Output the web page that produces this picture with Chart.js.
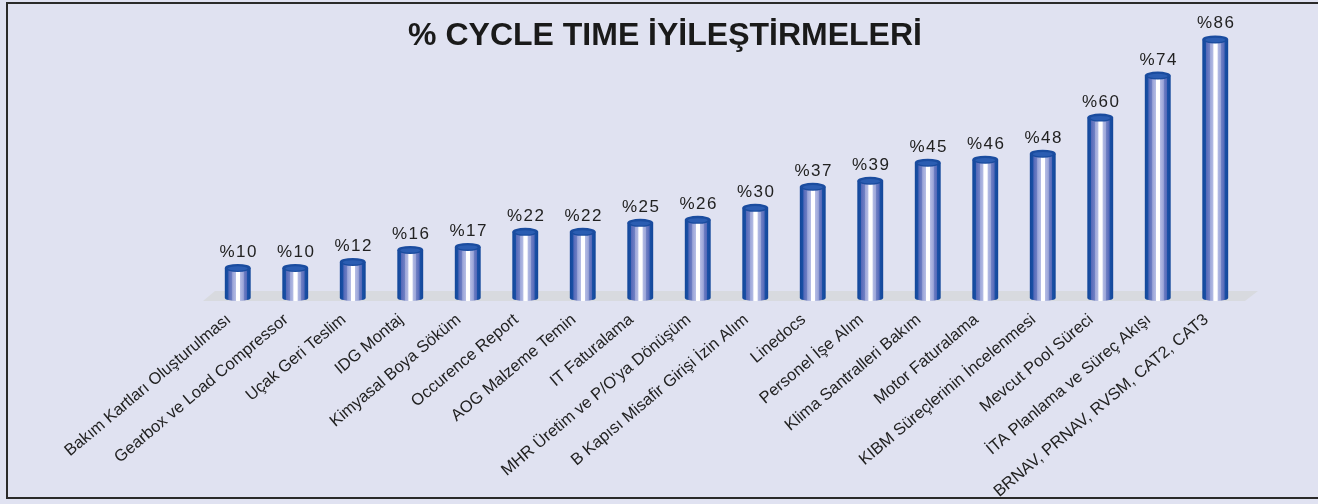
<!DOCTYPE html>
<html>
<head>
<meta charset="utf-8">
<script src="https://cdn.jsdelivr.net/npm/chart.js@4"></script>
<style>
  html, body { margin: 0; padding: 0; background: #e0e2f1; overflow: hidden; width: 1318px; height: 504px; }
  #frame {
    position: absolute; left: 6px; top: 2px; width: 1400px; height: 493px;
    border: 2px solid #2a2a2a; border-right: none; background: #e0e2f1;
  }
  #wrap { position: absolute; left: 0; top: 0; width: 1318px; height: 504px; }
</style>
</head>
<body>
<div id="frame"></div>
<div id="wrap"><canvas id="chart-cycle"></canvas></div>
<script>
var categories = [
  "Bakım Kartları Oluşturulması",
  "Gearbox ve Load Compressor",
  "Uçak Geri Teslim",
  "IDG Montaj",
  "Kimyasal Boya Söküm",
  "Occurence Report",
  "AOG Malzeme Temin",
  "IT Faturalama",
  "MHR Üretim ve P/O'ya Dönüşüm",
  "B Kapısı Misafir Girişi İzin Alım",
  "Linedocs",
  "Personel İşe Alım",
  "Klima Santralleri Bakım",
  "Motor Faturalama",
  "KIBM Süreçlerinin İncelenmesi",
  "Mevcut Pool Süreci",
  "İTA Planlama ve Süreç Akışı",
  "BRNAV, PRNAV, RVSM, CAT2, CAT3"
];
var values = [10, 10, 12, 16, 17, 22, 22, 25, 26, 30, 37, 39, 45, 46, 48, 60, 74, 86];
var valuePrefix = "%";

var barShare = 0.45;

// striped cylinder body, built from the x scale
function stripeFill(ctx) {
  var chart = ctx.chart;
  var xs = chart.scales && chart.scales.x;
  if (!xs || ctx.dataIndex === undefined || !chart.chartArea) return "#5a6db8";
  var cx = xs.getPixelForValue(ctx.dataIndex);
  var w = xs.width / categories.length * barShare;
  var g = chart.ctx.createLinearGradient(cx - w / 2, 0, cx + w / 2, 0);
  g.addColorStop(0, "#134799");
  g.addColorStop(0.13, "#1a50a6");
  g.addColorStop(0.15, "#5468b8");
  g.addColorStop(0.28, "#6f80c4");
  g.addColorStop(0.30, "#9aa4d8");
  g.addColorStop(0.42, "#b4bce4");
  g.addColorStop(0.44, "#ffffff");
  g.addColorStop(0.58, "#ffffff");
  g.addColorStop(0.60, "#b4bce4");
  g.addColorStop(0.72, "#9aa4d8");
  g.addColorStop(0.74, "#6f80c4");
  g.addColorStop(0.85, "#5468b8");
  g.addColorStop(0.87, "#1a50a6");
  g.addColorStop(1, "#134799");
  return g;
}

const cylinderPlugin = {
  id: "cylinder",
  beforeDatasetsDraw(chart) {
    var c = chart.ctx;
    var y0 = chart.scales.y.getPixelForValue(0);
    var a = chart.chartArea;
    c.save();
    c.fillStyle = "#d8dadf";
    c.beginPath();
    c.moveTo(a.left + 6, y0 - 7);
    c.lineTo(a.right + 14, y0 - 7);
    c.lineTo(a.right + 1, y0 + 3);
    c.lineTo(a.left - 6, y0 + 3);
    c.closePath();
    c.fill();
    c.restore();
  },
  afterDatasetsDraw(chart) {
    var c = chart.ctx;
    var y0 = chart.scales.y.getPixelForValue(0);
    var meta = chart.getDatasetMeta(0);
    c.save();
    meta.data.forEach(function (bar, i) {
      var r = bar.width / 2;
      // rounded bottom
      c.fillStyle = bar.options.backgroundColor;
      c.beginPath();
      c.ellipse(bar.x, y0, r, 3, 0, 0, Math.PI);
      c.fill();
      // top cap
      c.fillStyle = "#1a4c9f";
      c.beginPath();
      c.ellipse(bar.x, bar.y, r, 4, 0, 0, Math.PI * 2);
      c.fill();
      c.fillStyle = "#2b5db2";
      c.beginPath();
      c.ellipse(bar.x, bar.y + 0.5, r - 3, 2.2, 0, 0, Math.PI * 2);
      c.fill();
      // value label
      c.fillStyle = "#222222";
      c.font = '17px "Liberation Sans", Arial, sans-serif';
      c.letterSpacing = "1.5px";
      c.textAlign = "center";
      c.textBaseline = "alphabetic";
      c.fillText(valuePrefix + values[i], bar.x + 1, bar.y - 11);
    });
    c.restore();
  }
};

var ctc = document.getElementById("chart-cycle");
var chartCycle = new Chart(ctc, {
  type: "bar",
  plugins: [cylinderPlugin],
  data: {
    labels: categories,
    datasets: [{
      data: values,
      backgroundColor: stripeFill,
      borderWidth: 0,
      barPercentage: barShare,
      categoryPercentage: 1
    }]
  },
  options: {
    responsive: true,
    maintainAspectRatio: false,
    animation: {
      duration: 0
    },
    layout: {
      padding: { left: 12, right: 0, top: 0, bottom: 0 }
    },
    plugins: {
      legend: {
        display: false
      },
      tooltip: {
        enabled: false
      },
      title: {
        display: true,
        text: "% CYCLE TIME İYİLEŞTİRMELERİ",
        color: "#1a1a1a",
        font: { family: '"Liberation Sans", Arial, sans-serif', size: 32, weight: "bold" },
        padding: { top: 17, bottom: -28 }
      }
    },
    scales: {
      x: {
        grid: { display: false, drawTicks: false },
        border: { display: false },
        ticks: {
          color: "#222222",
          font: { family: '"Liberation Sans", Arial, sans-serif', size: 16.5 },
          minRotation: 40,
          maxRotation: 40,
          autoSkip: false,
          padding: 12,
          labelOffset: -9
        },
        afterFit: function (scale) {
          scale.height = 206;
        }
      },
      y: {
        position: "left",
        min: 0,
        max: 90,
        grid: { display: false, drawTicks: false },
        border: { display: false },
        ticks: { display: false },
        afterFit: function (scale) {
          scale.width = 197;
        }
      },
      yRight: {
        position: "right",
        min: 0,
        max: 90,
        grid: { display: false, drawTicks: false },
        border: { display: false },
        ticks: { display: false },
        afterFit: function (scale) {
          scale.width = 74;
        }
      }
    }
  }
});
</script>
</body>
</html>
